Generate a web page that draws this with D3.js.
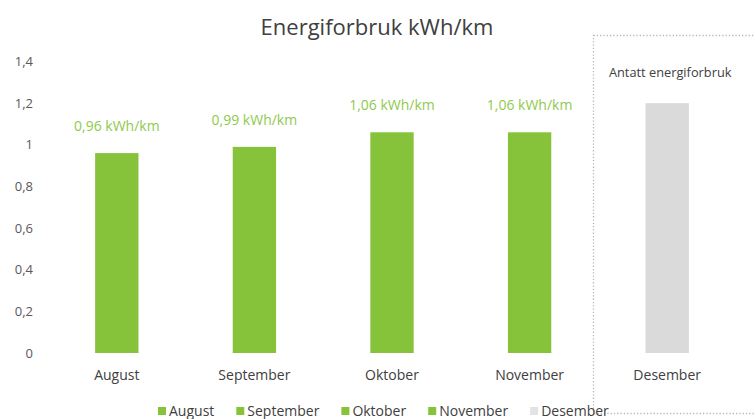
<!DOCTYPE html>
<html>
<head>
<meta charset="utf-8">
<script src="https://cdn.jsdelivr.net/npm/d3@7"></script>
<style>
  body { margin: 0; background: #fff; }
  svg { display: block; }
</style>
</head>
<body>
<div id="chart"></div>
<script>
// data
const months = ["August", "September", "Oktober", "November", "Desember"]
const values = [0.96, 0.99, 1.06, 1.06, 1.2]
const valueLabels = ["0,96 kWh/km", "0,99 kWh/km", "1,06 kWh/km", "1,06 kWh/km", null]
const yTicks = [0, 0.2, 0.4, 0.6, 0.8, 1, 1.2, 1.4]
const estimated = ["Desember"]

var width = 755, height = 419
const font = "'Open Sans', Lato, sans-serif"

const svg = d3.select('#chart')
	.append('svg')
	.attr('width', width)
	.attr('height', height)
	.style('font-family', font)

const x = d3.scaleBand()
	.domain(months)
	.range([48, 736])
	.paddingInner(0.685)
	.paddingOuter(0.3425)

const y = d3.scaleLinear()
	.domain([0, 1.4])
	.range([353, 61.5])

const barColor = d => estimated.includes(d) ? "#dadada" : "#86c33b"

// dotted box round the estimate
svg.append("rect")
	.attr("x", 593.5)
	.attr("y", 35.5)
	.attr("width", 170)
	.attr("height", 378)
	.attr("fill", "none")
	.attr("stroke", "#b8b8b8")
	.attr("stroke-width", 1.3)
	.attr("stroke-dasharray", "1.3,2")

svg.append("text")
	.attr("x", x("Desember") + x.bandwidth() / 2 + 3)
	.attr("y", 77)
	.attr("text-anchor", "middle")
	.attr("fill", "#404040")
	.style("font-size", "12.8px")
	.text("Antatt energiforbruk")

// title
svg.append("text")
	.attr("x", 377)
	.attr("y", 35)
	.attr("text-anchor", "middle")
	.attr("fill", "#404040")
	.style("font-size", "22px")
	.text("Energiforbruk kWh/km")

// y axis, labels only
const fmt = d => String(d).replace(".", ",")
const yAxis = svg.append("g")
	.attr("transform", "translate(33,0)")
	.call(d3.axisLeft(y).tickValues(yTicks).tickFormat(fmt).tickSize(0).tickPadding(0))
yAxis.select(".domain").remove()
yAxis.selectAll("text")
	.attr("fill", "#595959")
	.style("font-size", "13px")
	.style("font-family", font)

// bars
svg.append("g")
	.selectAll("rect")
	.data(months)
	.join("rect")
	.attr("x", d => x(d))
	.attr("y", (d, i) => y(values[i]))
	.attr("width", x.bandwidth())
	.attr("height", (d, i) => y(0) - y(values[i]))
	.attr("fill", barColor)

// value labels
svg.append("g")
	.selectAll("text")
	.data(months.filter((d, i) => valueLabels[i]))
	.join("text")
	.attr("x", d => x(d) + x.bandwidth() / 2)
	.attr("y", d => y(values[months.indexOf(d)]) - 22)
	.attr("text-anchor", "middle")
	.attr("fill", "#8fca4e")
	.style("font-size", "14px")
	.text(d => valueLabels[months.indexOf(d)])

// category labels
svg.append("g")
	.selectAll("text")
	.data(months)
	.join("text")
	.attr("x", d => x(d) + x.bandwidth() / 2)
	.attr("y", 380)
	.attr("text-anchor", "middle")
	.attr("fill", "#404040")
	.style("font-size", "14px")
	.text(d => d)

// legend
const legend = svg.append("g")
let lx = 158
months.forEach(m => {
	legend.append("rect")
		.attr("x", lx)
		.attr("y", 407)
		.attr("width", 8)
		.attr("height", 8)
		.attr("fill", estimated.includes(m) ? "#e3e3e3" : barColor(m))
	const t = legend.append("text")
		.attr("x", lx + 11)
		.attr("y", 416)
		.attr("fill", "#404040")
		.style("font-size", "14px")
		.text(m)
	lx += 11 + t.node().getComputedTextLength() + 22
})
</script>
</body>
</html>
